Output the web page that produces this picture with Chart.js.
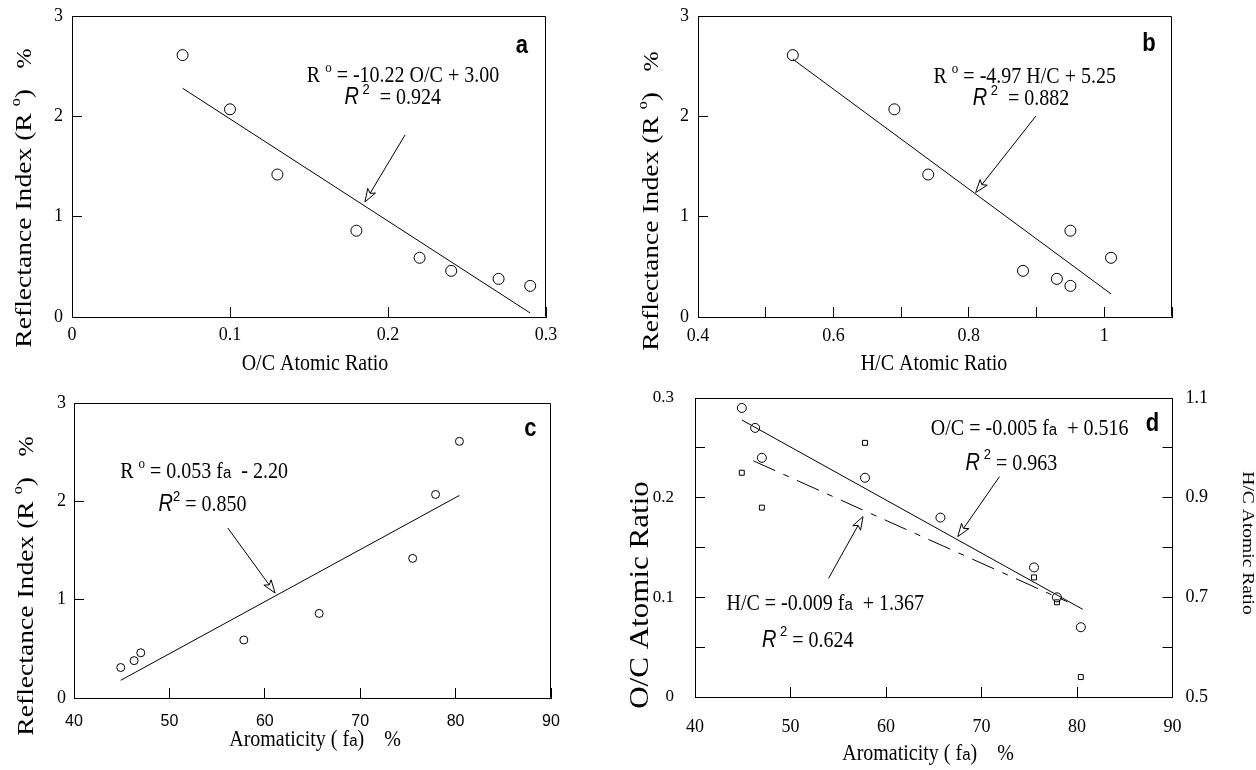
<!DOCTYPE html>
<html>
<head>
<meta charset="utf-8">
<script src="https://cdn.jsdelivr.net/npm/chart.js@4.4.1/dist/chart.umd.min.js"></script>
<style>
  body { margin: 0; background: #fff; }
  #wrap { position: relative; width: 1256px; height: 770px; }
  canvas { position: absolute; }
</style>
</head>
<body>
<div id="wrap">
  <canvas id="ca" width="628" height="385" style="left:0;top:0"></canvas>
  <canvas id="cb" width="628" height="385" style="left:628px;top:0"></canvas>
  <canvas id="cc" width="628" height="385" style="left:0;top:385px"></canvas>
  <canvas id="cd" width="628" height="385" style="left:628px;top:385px"></canvas>
</div>
<script>
// samples, same order in every panel
const ocRatio = [0.07, 0.10, 0.13, 0.18, 0.22, 0.24, 0.27, 0.29];
const hcRatio = [0.54, 0.69, 0.74, 0.95, 1.01, 0.88, 0.93, 0.95];
const reflect = [2.61, 2.07, 1.42, 0.86, 0.59, 0.46, 0.38, 0.31];
const aromat  = [80.4, 77.9, 75.5, 65.7, 57.8, 47.0, 46.3, 44.9];
// H/C squares actually shown in panel d
const dSqFa = [80.4, 77.9, 75.5, 57.8, 47.0, 44.9];
const dSqHc = [0.54, 0.69, 0.74, 1.01, 0.88, 0.95];

// regression line end points as drawn
const fitAx = [0.07, 0.29], fitAy = [2.28, 0.04];
const fitBx = [0.54, 1.01], fitBy = [2.57, 0.23];
const fitCx = [44.9, 80.4], fitCy = [0.18, 2.06];
const fitDocX = [44.9, 80.6], fitDocY = [0.278, 0.088];
const fitDhcX = [46.1, 79.0], fitDhcY = [0.974, 0.691];

// tick labels
const aXTicks = ['0', '0.1', '0.2', '0.3'];
const bXTicks = ['0.4', '0.6', '0.8', '1'];
const rTicks = ['0', '1', '2', '3'];
const faTicks = ['40', '50', '60', '70', '80', '90'];
const dOcTicks = ['0', '0.1', '0.2', '0.3'];
const dHcTicks = ['0.5', '0.7', '0.9', '1.1'];

const SERIF = '"Liberation Serif", "Times New Roman", serif';
const SANS = '"Liberation Sans", Arial, sans-serif';
const S20 = '20px ' + SERIF, S13 = '13px ' + SERIF;
const I20 = 'italic 20px ' + SANS, N13 = '13px ' + SANS, A15 = '15px ' + SANS;
const B23 = 'bold 22px ' + SANS;
const K = 1.15; // the scan is a little taller than wide

const pts = (xs, ys) => xs.map((x, i) => ({x: x, y: ys[i]}));
const pick = list => v => {
  const s = list.find(t => Math.abs(parseFloat(t) - v) < 1e-6);
  return s === undefined ? '' : s;
};

function runs(ctx, list, x, y, rot, base) {
  let w = 0;
  list.forEach(r => { ctx.font = r.f; r.w = ctx.measureText(r.t).width; w += r.w; });
  ctx.save();
  ctx.translate(x, y);
  ctx.rotate(rot || 0);
  if (rot) ctx.scale(K, 1); else ctx.scale(1, K);
  ctx.fillStyle = '#000';
  ctx.textBaseline = 'alphabetic';
  ctx.textAlign = 'left';
  let cx = -w / 2;
  list.forEach(r => { ctx.font = r.f; ctx.fillText(r.t, cx, (base || 7) + (r.dy || 0)); cx += r.w; });
  ctx.restore();
}

function arrow(ctx, x1, y1, x2, y2) {
  const ang = Math.atan2(y2 - y1, x2 - x1);
  const ux = Math.cos(ang), uy = Math.sin(ang);
  const L = 13, W = 4.5;
  const bx = x2 - ux * L, by = y2 - uy * L;
  ctx.strokeStyle = '#000';
  ctx.lineWidth = 1;
  ctx.beginPath();
  ctx.moveTo(x1, y1);
  ctx.lineTo(bx + ux * 3, by + uy * 3);
  ctx.stroke();
  ctx.beginPath();
  ctx.moveTo(x2, y2);
  ctx.lineTo(bx - uy * W, by + ux * W);
  ctx.lineTo(bx + ux * 3, by + uy * 3);
  ctx.lineTo(bx + uy * W, by - ux * W);
  ctx.closePath();
  ctx.fillStyle = '#fff';
  ctx.fill();
  ctx.stroke();
}

const reflTitle = [{t: 'Reflectance Index (R ', f: '24px ' + SERIF}, {t: 'o', f: '14px ' + SERIF, dy: -11},
  {t: ')   ', f: '24px ' + SERIF}, {t: '%', f: '21px ' + SERIF}];

// text, arrows and titles per panel
const extras = {
  ca: {
    notes: [
      {at: [0.2095, 2.42], runs: [{t: 'R ', f: S20}, {t: 'o', f: S13, dy: -9}, {t: ' = -10.22 O/C + 3.00', f: S20}]},
      {at: [0.203, 2.2], runs: [{t: 'R', f: I20}, {t: ' 2', f: N13, dy: -9}, {t: '  = 0.924', f: S20}]},
      {at: [0.2848, 2.71], runs: [{t: 'a', f: B23}]}
    ],
    arrows: [{from: [0.2108, 1.815], to: [0.1854, 1.147]}],
    titles: [
      {x: 315, y: 362, runs: [{t: 'O/C Atomic Ratio', f: S20}]},
      {x: 22.5, y: 198, rot: -Math.PI / 2, base: 8, runs: reflTitle}
    ]
  },
  cb: {
    notes: [
      {at: [0.8825, 2.41], runs: [{t: 'R ', f: S20}, {t: 'o', f: S13, dy: -9}, {t: ' = -4.97 H/C + 5.25', f: S20}]},
      {at: [0.877, 2.19], runs: [{t: 'R', f: I20}, {t: ' 2', f: N13, dy: -9}, {t: '  = 0.882', f: S20}]},
      {at: [1.066, 2.73], runs: [{t: 'b', f: B23}]}
    ],
    arrows: [{from: [0.899, 2.003], to: [0.81, 1.24]}],
    titles: [
      {x: 306, y: 362, runs: [{t: 'H/C Atomic Ratio', f: S20}]},
      {x: 22, y: 201, rot: -Math.PI / 2, base: 8, runs: reflTitle}
    ]
  },
  cc: {
    notes: [
      {at: [53.64, 2.32], runs: [{t: 'R ', f: S20}, {t: 'o', f: S13, dy: -9}, {t: ' = 0.053 f', f: S20}, {t: 'a', f: A15}, {t: '  - 2.20', f: S20}]},
      {at: [53.48, 1.98], runs: [{t: 'R', f: I20}, {t: '2', f: N13, dy: -9}, {t: ' = 0.850', f: S20}]},
      {at: [87.83, 2.747], runs: [{t: 'c', f: B23}]}
    ],
    arrows: [{from: [56.12, 1.729], to: [61.08, 1.068]}],
    titles: [
      {x: 315, y: 353, runs: [{t: 'Aromaticity ( f', f: S20}, {t: 'a', f: A15}, {t: ')    %', f: S20}]},
      {x: 25, y: 201, rot: -Math.PI / 2, base: 8, runs: reflTitle}
    ]
  },
  cd: {
    notes: [
      {at: [75.04, 0.2714], runs: [{t: 'O/C = -0.005 f', f: S20}, {t: 'a', f: A15}, {t: '  + 0.516', f: S20}]},
      {at: [73.13, 0.2363], runs: [{t: 'R', f: I20}, {t: ' 2', f: N13, dy: -9}, {t: ' = 0.963', f: S20}]},
      {at: [87.9, 0.2749], runs: [{t: 'd', f: B23}]},
      {at: [53.64, 0.0955], runs: [{t: 'H/C = -0.009 f', f: S20}, {t: 'a', f: A15}, {t: '  + 1.367', f: S20}]},
      {at: [51.8, 0.0587], runs: [{t: 'R', f: I20}, {t: ' 2', f: N13, dy: -9}, {t: ' = 0.624', f: S20}]}
    ],
    arrows: [
      {from: [71.89, 0.2212], to: [67.52, 0.1609]},
      {from: [53.98, 0.119], to: [57.59, 0.181]}
    ],
    titles: [
      {x: 300, y: 366.7, runs: [{t: 'Aromaticity ( f', f: S20}, {t: 'a', f: A15}, {t: ')    %', f: S20}]},
      {x: 11, y: 210, rot: -Math.PI / 2, base: 9, runs: [{t: 'O/C Atomic Ratio', f: '27px ' + SERIF}]},
      {x: 621, y: 158, rot: Math.PI / 2, base: 6, runs: [{t: 'H/C Atomic Ratio', f: '17px ' + SERIF}]}
    ]
  }
};

const panelText = {
  id: 'panelText',
  afterDraw(chart) {
    const ex = extras[chart.canvas.id];
    const ctx = chart.ctx, a = chart.chartArea, sx = chart.scales.x, sy = chart.scales.y;
    ctx.save();
    ctx.strokeStyle = '#000';
    ctx.lineWidth = 1;
    ctx.beginPath();
    ctx.moveTo(Math.round(a.left) + 0.5, Math.round(a.top) + 0.5);
    ctx.lineTo(Math.round(a.right) - 0.5, Math.round(a.top) + 0.5);
    ctx.lineTo(Math.round(a.right) - 0.5, Math.round(a.bottom) - 0.5);
    ctx.stroke();
    ex.arrows.forEach(ar => {
      arrow(ctx, sx.getPixelForValue(ar.from[0]), sy.getPixelForValue(ar.from[1]),
                 sx.getPixelForValue(ar.to[0]), sy.getPixelForValue(ar.to[1]));
    });
    ex.notes.forEach(n => {
      runs(ctx, n.runs, sx.getPixelForValue(n.at[0]), sy.getPixelForValue(n.at[1]), 0, 7);
    });
    ex.titles.forEach(t => runs(ctx, t.runs, t.x, t.y, t.rot, t.base));
    ctx.restore();
  }
};

function axis(o) {
  return {
    type: 'linear',
    position: o.pos,
    min: o.min,
    max: o.max,
    afterFit: s => {
      if (s.isHorizontal()) s.height = o.size; else s.width = o.size;
      // keep label overhang from pushing the plot box around
      s.paddingTop = s.paddingBottom = s.paddingLeft = s.paddingRight = 0;
    },
    border: {display: true, color: '#000', width: 1},
    grid: {display: true, drawOnChartArea: false, drawTicks: true, tickLength: -10, color: '#000', lineWidth: 1},
    ticks: {
      stepSize: o.step, padding: o.pad, color: '#000', autoSkip: false, maxRotation: 0,
      font: o.font || {family: SERIF, size: 18},
      callback: pick(o.labels)
    }
  };
}

const ring = r => ({pointStyle: 'circle', pointRadius: r, pointBorderColor: '#000', pointBorderWidth: 1,
  pointBackgroundColor: 'rgba(0,0,0,0)', showLine: false});
const fit = (xs, ys, extra) => Object.assign({data: pts(xs, ys), showLine: true, pointRadius: 0,
  borderColor: '#000', borderWidth: 1, fill: false}, extra || {});

function panel(id, datasets, scales, pad) {
  new Chart(document.getElementById(id), {
    type: 'scatter',
    data: {datasets: datasets},
    options: {
      responsive: false, animation: false, events: [],
      layout: {padding: pad, autoPadding: false},
      plugins: {legend: {display: false}, tooltip: {enabled: false}},
      scales: scales
    },
    plugins: [panelText]
  });
}

panel('ca', [
  Object.assign({data: pts(ocRatio, reflect)}, ring(5.5)),
  fit(fitAx, fitAy)
], {
  x: axis({pos: 'bottom', min: 0, max: 0.3, step: 0.1, pad: 17, size: 68, labels: aXTicks}),
  y: axis({pos: 'left', min: 0, max: 3, step: 1, pad: 19, size: 72, labels: rTicks})
}, {top: 16, right: 82, left: 0, bottom: 0});

panel('cb', [
  Object.assign({data: pts(hcRatio, reflect)}, ring(5.5)),
  fit(fitBx, fitBy)
], {
  x: axis({pos: 'bottom', min: 0.4, max: 1.1, step: 0.1, pad: 18, size: 68, labels: bXTicks}),
  y: axis({pos: 'left', min: 0, max: 3, step: 1, pad: 19, size: 70, labels: rTicks})
}, {top: 16, right: 84, left: 0, bottom: 0});

panel('cc', [
  Object.assign({data: pts(aromat, reflect)}, ring(4)),
  fit(fitCx, fitCy)
], {
  x: axis({pos: 'bottom', min: 40, max: 90, step: 10, pad: 24, size: 72, labels: faTicks, font: {family: SANS, size: 16}}),
  y: axis({pos: 'left', min: 0, max: 3, step: 1, pad: 18, size: 74, labels: rTicks})
}, {top: 18, right: 77, left: 0, bottom: 0});

panel('cd', [
  Object.assign({data: pts(aromat, ocRatio)}, ring(4.5)),
  Object.assign({data: pts(dSqFa, dSqHc), yAxisID: 'y2'}, ring(3.5), {pointStyle: 'rect'}),
  fit(fitDocX, fitDocY),
  fit(fitDhcX, fitDhcY, {yAxisID: 'y2', borderDash: [24, 9, 6, 9]})
], {
  x: axis({pos: 'bottom', min: 40, max: 90, step: 10, pad: 29, size: 73, labels: faTicks}),
  y: axis({pos: 'left', min: 0, max: 0.3, step: 0.05, pad: 31, size: 67, labels: dOcTicks, font: {family: SERIF, size: 17}}),
  y2: axis({pos: 'right', min: 0.5, max: 1.1, step: 0.1, pad: 23, size: 83.5, labels: dHcTicks})
}, {top: 13, right: 0, left: 0, bottom: 0});
</script>
</body>
</html>
